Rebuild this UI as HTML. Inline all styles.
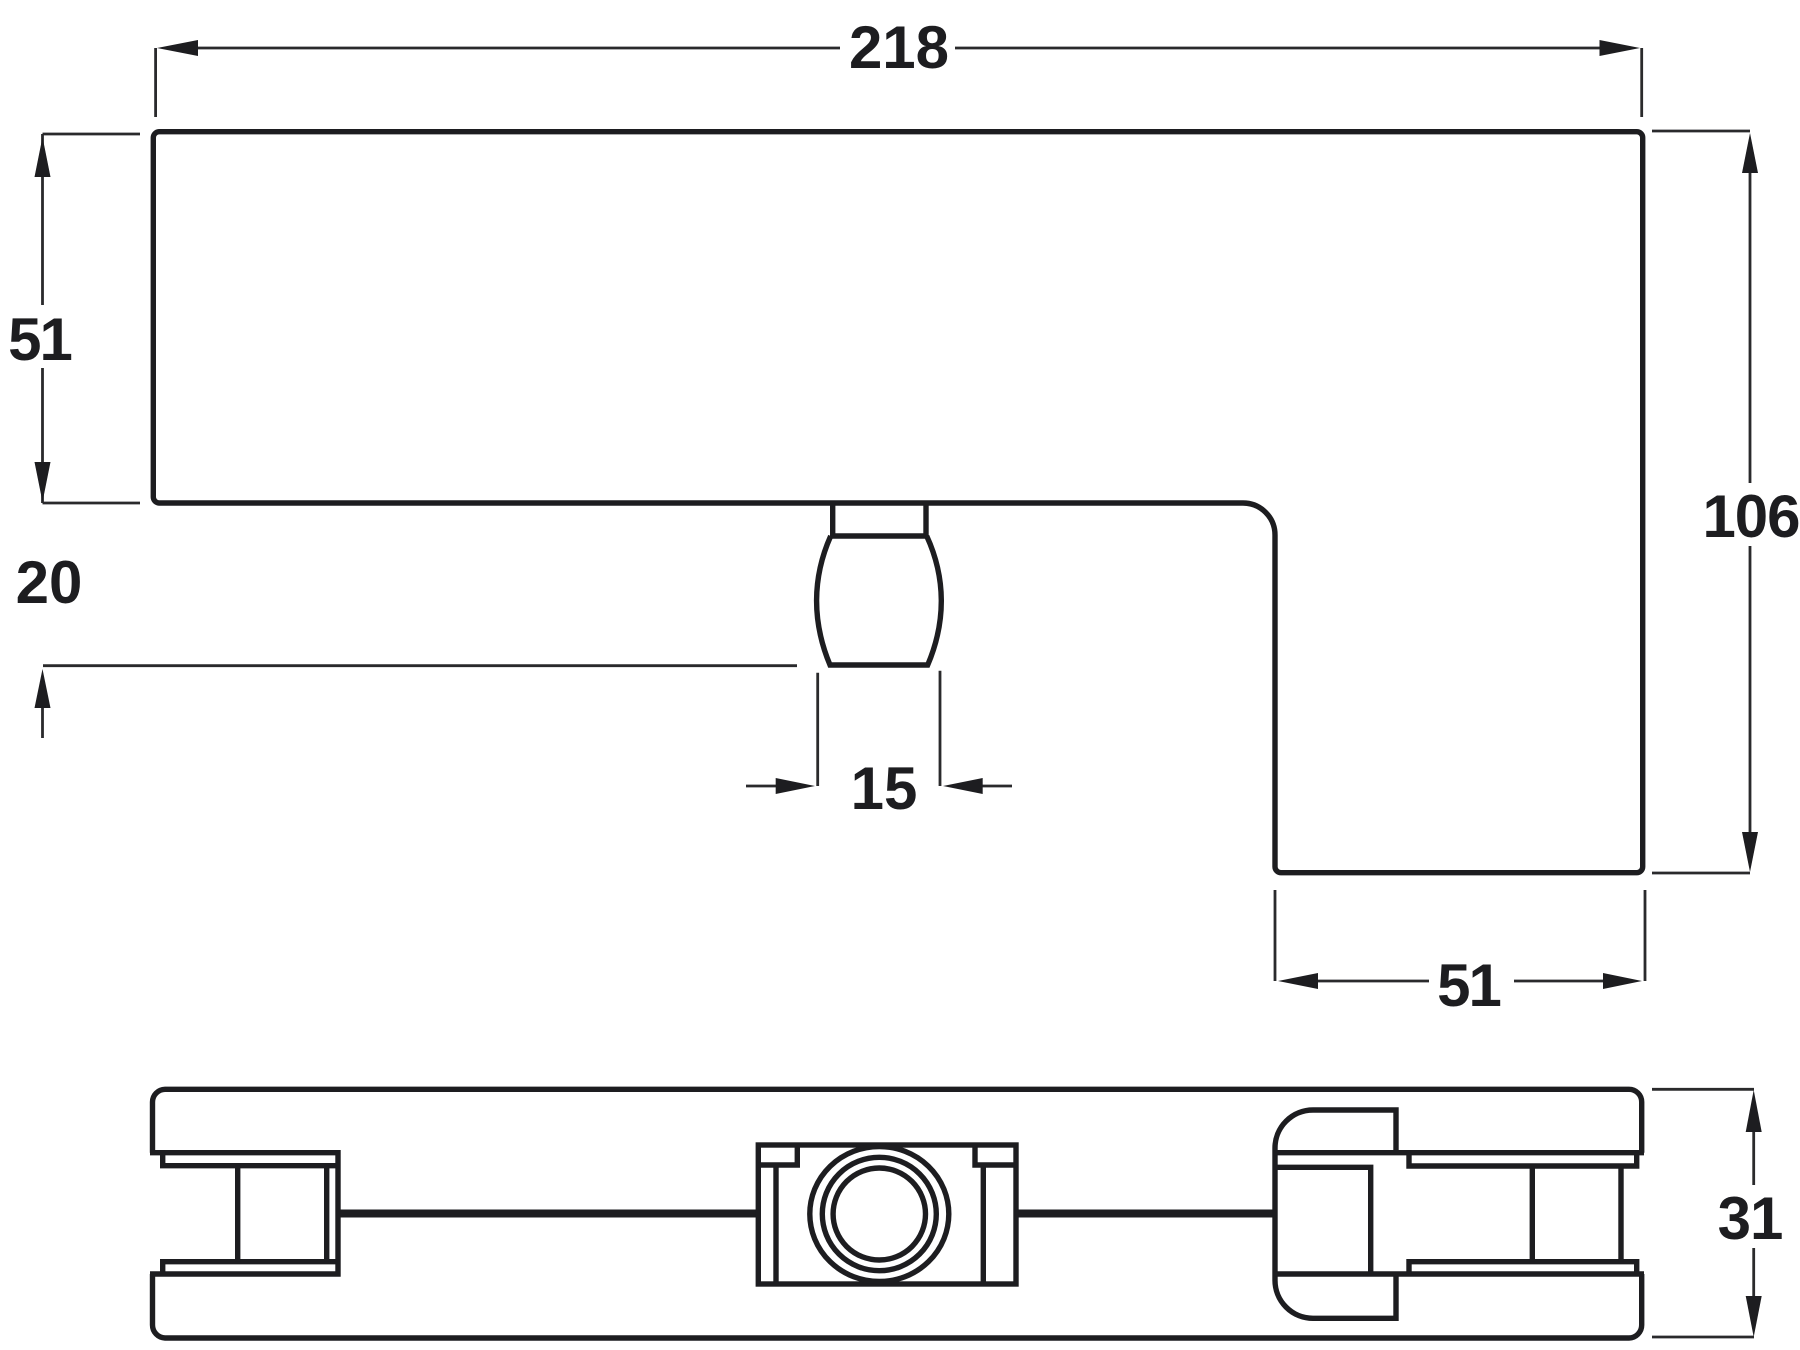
<!DOCTYPE html>
<html>
<head>
<meta charset="utf-8">
<style>
html,body{margin:0;padding:0;background:#fff;width:1800px;height:1350px;overflow:hidden}
svg{display:block}
text{font-family:"Liberation Sans",Arial,sans-serif;font-weight:700;font-size:60px;fill:#1d1d20;text-anchor:middle}
.o{fill:none;stroke:#1d1d20;stroke-width:5.4;stroke-linejoin:miter}
.d{fill:none;stroke:#2a2a2c;stroke-width:2.8}
.a{fill:#1d1d20;stroke:none}
.t{fill:none;stroke:#1d1d20;stroke-width:8}
</style>
</head>
<body>
<svg width="1800" height="1350" viewBox="0 0 1800 1350" xmlns="http://www.w3.org/2000/svg">
<rect width="1800" height="1350" fill="#fff"/>

<!-- Top view outline -->
<path class="o" d="M159 131.7H1636.7A6 6 0 0 1 1642.7 137.7V866.7A6 6 0 0 1 1636.7 872.7H1281A6 6 0 0 1 1275 866.7V535A32 32 0 0 0 1243 503H159A6 6 0 0 1 153.3 497V137.7A6 6 0 0 1 159 131.7Z"/>

<!-- Pin -->
<path class="o" d="M832.7 503V536M926 503V536M830.7 536H926.7"/>
<path class="o" d="M830.7 536C812 578 812 622 830 665H927.7C946 622 946 578 926.7 536"/>

<!-- 218 dimension -->
<path class="d" d="M155.6 48V117M1641.7 48V117M195 48H840M955 48H1604"/>
<path class="a" d="M157 48L198 40V56Z"/>
<path class="a" d="M1640 48L1599.5 40V56Z"/>
<text x="899" y="68">218</text>

<!-- Left 51 dimension -->
<path class="d" d="M42.5 134H140M42.5 134V305M42.5 368V503M42.5 503H140"/>
<path class="a" d="M42.5 137L34.5 177H50.5Z"/>
<path class="a" d="M42.5 502L34.5 462H50.5Z"/>
<text x="39.5" y="360" style="letter-spacing:-2px">51</text>

<!-- 20 dimension -->
<text x="49" y="603">20</text>
<path class="d" d="M43 665.7H797M42.5 700V738"/>
<path class="a" d="M42.5 669L34.5 708H50.5Z"/>

<!-- 15 dimension -->
<path class="d" d="M817.7 672.7V786M940 670.7V786M746 786H780M980 786H1012"/>
<path class="a" d="M815 786L775.7 778V794Z"/>
<path class="a" d="M943 786L982.7 778V794Z"/>
<text x="884" y="809">15</text>

<!-- 106 dimension -->
<path class="d" d="M1652 131H1750M1750 170V483M1750 546V835M1652 873H1750"/>
<path class="a" d="M1750 133L1742 173H1758Z"/>
<path class="a" d="M1750 872L1742 832H1758Z"/>
<text x="1751" y="537" style="letter-spacing:-1px">106</text>

<!-- Bottom 51 dimension -->
<path class="d" d="M1275 890V981M1645 890V981M1315 981H1429M1514 981H1606"/>
<path class="a" d="M1278 981L1318 973V989Z"/>
<path class="a" d="M1642 981L1603 973V989Z"/>
<text x="1468.5" y="1006" style="letter-spacing:-2px">51</text>

<!-- 31 dimension -->
<path class="d" d="M1652 1089.3H1754M1753.7 1130V1185M1753.7 1248V1298M1652 1337H1754"/>
<path class="a" d="M1753.7 1090L1745.7 1132H1761.7Z"/>
<path class="a" d="M1753.7 1337L1745.7 1296H1761.7Z"/>
<text x="1750" y="1239" style="letter-spacing:-1px">31</text>

<!-- Bottom view outer -->
<path class="o" d="M152.5 1152.7V1102A12.7 12.7 0 0 1 165 1089.3H1629A12.7 12.7 0 0 1 1641.7 1102V1152.7"/>
<path class="o" d="M152.5 1274V1325A13 13 0 0 0 165 1338H1629A13 13 0 0 0 1641.7 1325V1274"/>

<!-- Left clamp -->
<path class="o" d="M150 1152.7H338V1274H150"/>
<path class="o" d="M162.7 1152.7V1165.7H338M162.7 1274V1261.7H338"/>
<path class="o" d="M237.7 1165.7V1261.7M326.7 1165.7V1261.7"/>

<!-- Thick connecting lines -->
<path class="t" d="M338 1213.5H758M1016 1213.5H1275"/>

<!-- Centre block -->
<rect class="o" x="758.3" y="1145" width="257.7" height="139"/>
<path class="o" d="M758.3 1165H797.3V1145M1016 1165H975V1145M776 1165V1284M983.3 1165V1284"/>
<ellipse class="o" cx="879.3" cy="1214" rx="69.5" ry="67.5"/>
<ellipse class="o" cx="879.3" cy="1214" rx="57" ry="56.7"/>
<ellipse class="o" cx="879.3" cy="1214" rx="46.2" ry="46"/>

<!-- Right clamp -->
<path class="o" d="M1275 1148A38 38 0 0 1 1313 1110H1396V1152.7"/>
<path class="o" d="M1275 1280A38 38 0 0 0 1313 1318.3H1396V1274"/>
<path class="o" d="M1275 1148V1280"/>
<path class="o" d="M1275 1152.7H1644M1275 1274H1644"/>
<path class="o" d="M1275 1167.3H1370.7V1274"/>
<path class="o" d="M1409 1152.7V1166H1636.7V1152.7M1409 1274V1261.7H1636.7V1274"/>
<path class="o" d="M1532.3 1166V1261.7M1621 1166V1261.7"/>
</svg>
</body>
</html>
